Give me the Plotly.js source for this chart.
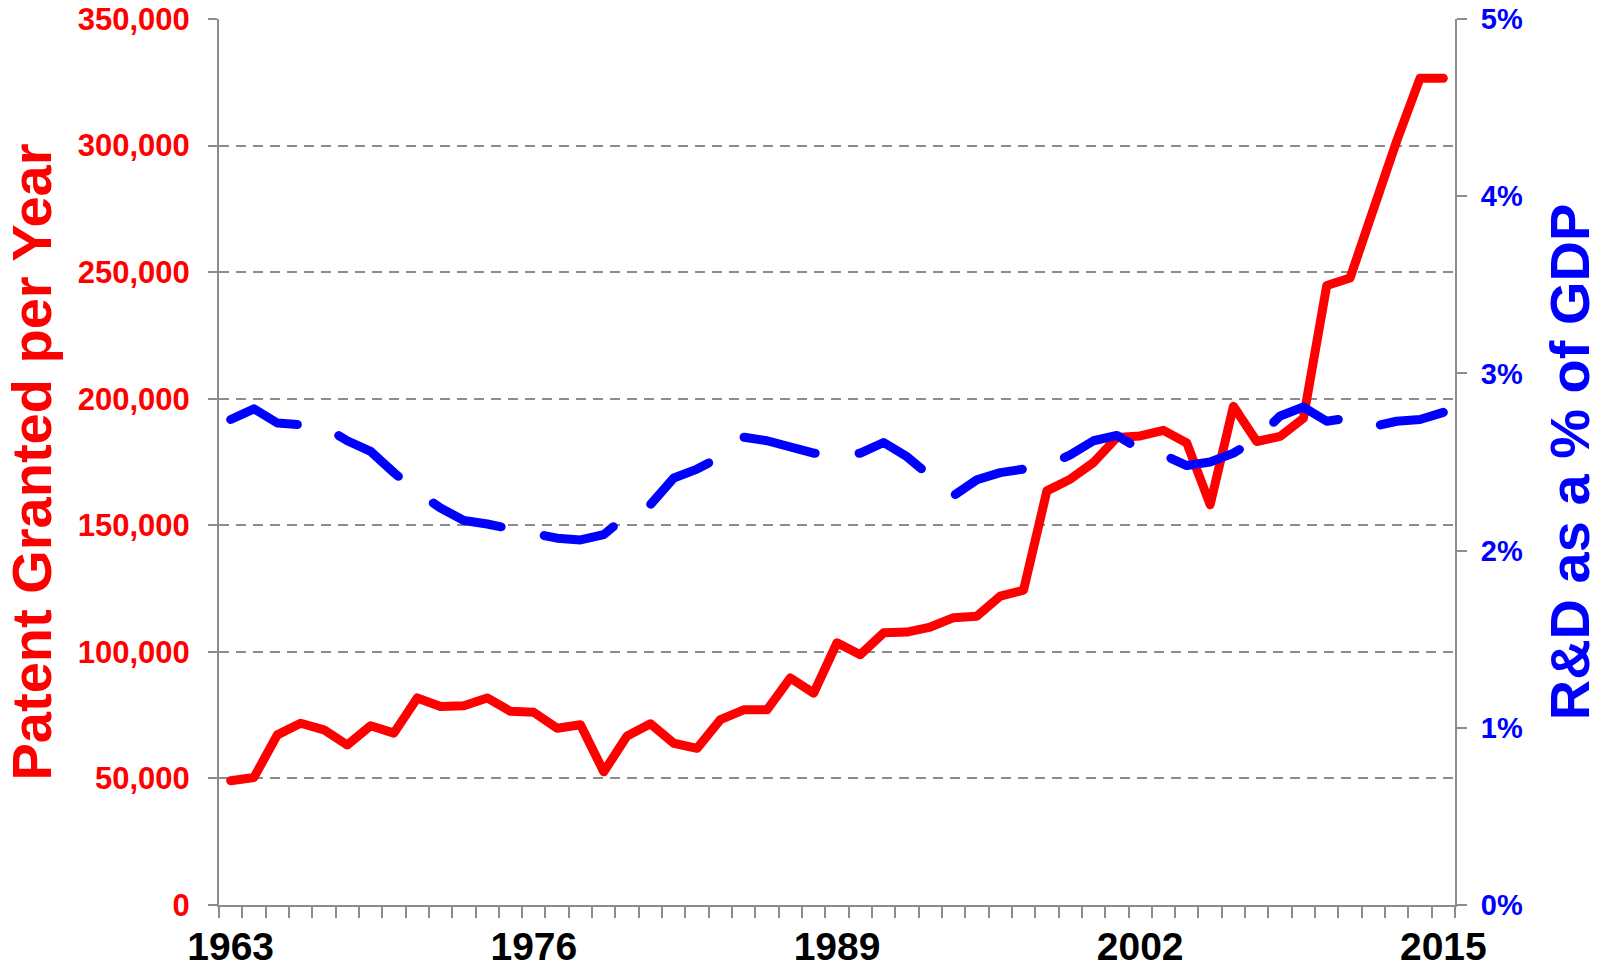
<!DOCTYPE html>
<html>
<head>
<meta charset="utf-8">
<script src="https://cdn.plot.ly/plotly-3.0.1.min.js"></script>
<style>
  html, body { margin: 0; padding: 0; background: #ffffff; }
  #chart { width: 1604px; height: 973px; }
  .scatterlayer path.js-line { stroke-linecap: round; stroke-linejoin: round; }
</style>
</head>
<body>
<div id="chart"></div>
<script>
const years = [1963,1964,1965,1966,1967,1968,1969,1970,1971,1972,1973,1974,1975,
  1976,1977,1978,1979,1980,1981,1982,1983,1984,1985,1986,1987,1988,
  1989,1990,1991,1992,1993,1994,1995,1996,1997,1998,1999,2000,2001,
  2002,2003,2004,2005,2006,2007,2008,2009,2010,2011,2012,2013,2014,2015];

const patentsGranted = [49100,50400,67200,71800,69200,63200,70800,67900,81800,78400,78700,81800,76500,
  76100,69800,71200,52600,66800,71600,63900,61900,73200,77100,77100,89700,83700,
  103600,98900,107500,107800,109800,113500,114100,122000,124400,163600,168200,174800,184700,
  185300,187500,182500,158100,197000,183100,185100,192300,244700,247700,275400,301800,326600,326600];

const rdPctGdp = [2.74,2.80,2.72,2.71,2.70,2.62,2.56,2.44,2.33,2.24,2.17,2.15,2.12,
  2.09,2.07,2.06,2.09,2.20,2.26,2.41,2.46,2.53,2.64,2.62,2.59,2.55,
  2.54,2.55,2.61,2.53,2.42,2.31,2.40,2.44,2.46,2.48,2.54,2.62,2.65,
  2.57,2.54,2.48,2.50,2.55,2.63,2.76,2.81,2.73,2.75,2.70,2.73,2.74,2.78];

const xTickYears = [1963,1976,1989,2002,2015];
const leftTicks = [0,50000,100000,150000,200000,250000,300000,350000];
const rightTicks = [0,1,2,3,4,5];

const FONT = '"Liberation Sans", Arial, Helvetica, sans-serif';
const GRAY = '#8c8c8c';

const traces = [
  {
    x: years, y: patentsGranted, type: 'scatter', mode: 'lines',
    name: 'Patent Granted per Year', yaxis: 'y',
    line: { color: '#ff0000', width: 9 },
    hoverinfo: 'skip'
  },
  {
    x: years, y: rdPctGdp, type: 'scatter', mode: 'lines',
    name: 'R&D as a % of GDP', yaxis: 'y2',
    line: { color: '#0000ff', width: 9, dash: '73px,44px' },
    hoverinfo: 'skip'
  }
];

const layout = {
  width: 1604, height: 973,
  paper_bgcolor: '#ffffff', plot_bgcolor: '#ffffff',
  showlegend: false,
  margin: { l: 219, r: 149, t: 19, b: 68, pad: 0 },
  font: { family: FONT },
  xaxis: {
    type: 'linear',
    range: [1962.5, 2015.5],
    tickmode: 'array',
    tickvals: xTickYears,
    ticktext: xTickYears.map(String),
    ticks: '',
    tickfont: { family: FONT, size: 39, color: '#000000', weight: 'bold' },
    ticklabelstandoff: 6,
    showline: true, linecolor: GRAY, linewidth: 2,
    showgrid: false, zeroline: false,
    minor: { tick0: 1962.5, dtick: 1, ticks: 'outside', ticklen: 11, tickwidth: 2, tickcolor: GRAY, showgrid: false },
    fixedrange: true
  },
  yaxis: {
    range: [0, 350000],
    tickmode: 'array',
    tickvals: leftTicks,
    ticktext: leftTicks.map(v => v.toLocaleString('en-US')),
    ticks: 'outside', ticklen: 9, tickwidth: 2, tickcolor: GRAY,
    tickfont: { family: FONT, size: 31, color: '#ff0000', weight: 'bold' },
    ticklabelstandoff: 12,
    showline: true, linecolor: GRAY, linewidth: 2,
    showgrid: true, gridcolor: GRAY, gridwidth: 2, griddash: '10px,7px',
    zeroline: false,
    title: { text: 'Patent Granted per Year', font: { family: FONT, size: 56, color: '#ff0000', weight: 'bold' }, standoff: 9 },
    fixedrange: true
  },
  yaxis2: {
    overlaying: 'y', side: 'right', anchor: 'x',
    range: [0, 5],
    tickmode: 'array',
    tickvals: rightTicks,
    ticktext: rightTicks.map(v => v + '%'),
    ticks: 'outside', ticklen: 10, tickwidth: 2, tickcolor: GRAY,
    tickfont: { family: FONT, size: 29, color: '#0000ff', weight: 'bold' },
    ticklabelstandoff: 8,
    showline: true, linecolor: GRAY, linewidth: 2,
    showgrid: false, zeroline: false,
    title: { text: 'R&D as a % of GDP', font: { family: FONT, size: 56, color: '#0000ff', weight: 'bold' }, standoff: 28 },
    fixedrange: true
  }
};

Plotly.newPlot('chart', traces, layout, { displayModeBar: false, staticPlot: true });
</script>
</body>
</html>
